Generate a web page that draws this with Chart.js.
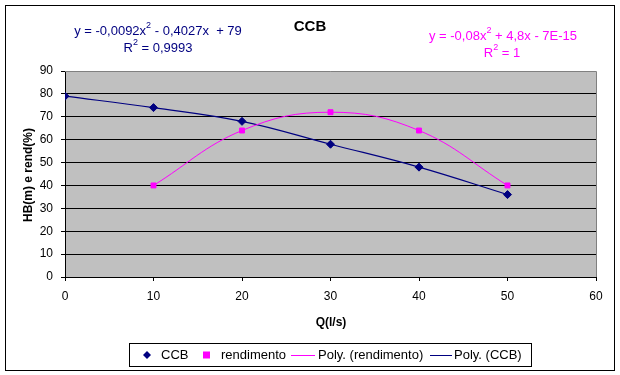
<!DOCTYPE html>
<html>
<head>
<meta charset="utf-8">
<script src="https://cdn.jsdelivr.net/npm/chart.js@4.4.1/dist/chart.umd.min.js"></script>
<style>
  html, body { margin: 0; padding: 0; background: #fff; }
  #wrap { width: 620px; height: 375px; }
</style>
</head>
<body>
<div id="wrap"><canvas id="chart" width="620" height="375"></canvas></div>
<script>
// ---- dados ----
const qCCB = [0, 10, 20, 30, 40, 50];
const hbCCB = [79, 74, 68, 58, 48, 36];
const qRend = [10, 20, 30, 40, 50];
const rendValues = [40, 64, 72, 64, 40];
const xTicks = [0, 10, 20, 30, 40, 50, 60];
const yTicks = [0, 10, 20, 30, 40, 50, 60, 70, 80, 90];

const NAVY = '#000080';
const MAGENTA = '#FF00FF';
const FONT = "'Liberation Sans', Arial, sans-serif";

const ccbPoints = qCCB.map((q, i) => ({ x: q, y: hbCCB[i] }));
const rendPoints = qRend.map((q, i) => ({ x: q, y: rendValues[i] }));

// texto com expoente (x², R²)
function drawSupText(ctx, parts, cx, cy, color) {
    ctx.save();
    ctx.fillStyle = color;
    ctx.textBaseline = 'middle';
    ctx.textAlign = 'left';
    let total = 0;
    parts.forEach(p => {
        ctx.font = p[1] ? '9px ' + FONT : '13px ' + FONT;
        total += ctx.measureText(p[0]).width;
    });
    let x = cx - total / 2;
    parts.forEach(p => {
        ctx.font = p[1] ? '9px ' + FONT : '13px ' + FONT;
        ctx.fillText(p[0], x, p[1] ? cy - 5 : cy);
        x += ctx.measureText(p[0]).width;
    });
    ctx.restore();
}

const decorPlugin = {
    id: 'decor',
    beforeDraw(chart) {
        const { ctx, chartArea: a } = chart;
        ctx.save();
        ctx.fillStyle = '#fff';
        ctx.fillRect(0, 0, chart.width, chart.height);
        ctx.fillStyle = '#C0C0C0';
        ctx.fillRect(a.left, a.top, a.right - a.left, a.bottom - a.top);
        ctx.restore();
    },
    beforeDatasetsDraw(chart) {
        const { ctx, chartArea: a } = chart;
        ctx.save();
        ctx.strokeStyle = '#808080';
        ctx.lineWidth = 1;
        ctx.beginPath();
        ctx.moveTo(a.left, a.top + 0.5);
        ctx.lineTo(a.right + 0.5, a.top + 0.5);
        ctx.lineTo(a.right + 0.5, a.bottom);
        ctx.stroke();
        ctx.restore();
    },
    afterDraw(chart) {
        const ctx = chart.ctx;
        const ds = chart.data.datasets;
        ctx.save();

        // moldura externa
        ctx.strokeStyle = '#000';
        ctx.lineWidth = 1;
        ctx.strokeRect(5.5, 5.5, 609, 365);

        // título
        ctx.fillStyle = '#000';
        ctx.font = 'bold 15px ' + FONT;
        ctx.textAlign = 'center';
        ctx.textBaseline = 'middle';
        ctx.fillText('CCB', 310, 27);

        // equações das linhas de tendência
        drawSupText(ctx, [['y = -0,0092x', false], ['2', true], [' - 0,4027x  + 79', false]], 158, 31, NAVY);
        drawSupText(ctx, [['R', false], ['2', true], [' = 0,9993', false]], 158, 48, NAVY);
        drawSupText(ctx, [['y = -0,08x', false], ['2', true], [' + 4,8x - 7E-15', false]], 503, 36, MAGENTA);
        drawSupText(ctx, [['R', false], ['2', true], [' = 1', false]], 502, 53, MAGENTA);

        // títulos dos eixos
        ctx.fillStyle = '#000';
        ctx.font = 'bold 12px ' + FONT;
        ctx.textAlign = 'center';
        ctx.textBaseline = 'middle';
        ctx.fillText('Q(l/s)', 331, 323);
        ctx.save();
        ctx.translate(29, 175);
        ctx.rotate(-Math.PI / 2);
        ctx.fillText('HB(m) e rend(%)', 0, 0);
        ctx.restore();

        // legenda
        ctx.strokeStyle = '#000';
        ctx.strokeRect(129.5, 343.5, 402, 23);
        const ly = 355;
        ctx.font = '13px ' + FONT;
        ctx.textAlign = 'left';
        ctx.textBaseline = 'middle';
        // CCB
        ctx.fillStyle = NAVY;
        ctx.beginPath();
        ctx.moveTo(147, ly - 4); ctx.lineTo(151, ly); ctx.lineTo(147, ly + 4); ctx.lineTo(143, ly);
        ctx.closePath(); ctx.fill();
        ctx.fillStyle = '#000';
        ctx.fillText(ds[0].label, 161, ly);
        // rendimento
        ctx.fillStyle = MAGENTA;
        ctx.fillRect(203, ly - 3.5, 7, 7);
        ctx.fillStyle = '#000';
        ctx.fillText(ds[1].label, 221, ly);
        // Poly. (rendimento)
        ctx.strokeStyle = MAGENTA;
        ctx.beginPath(); ctx.moveTo(291, ly + 0.5); ctx.lineTo(315, ly + 0.5); ctx.stroke();
        ctx.fillText(ds[2].label, 318, ly);
        // Poly. (CCB)
        ctx.strokeStyle = NAVY;
        ctx.beginPath(); ctx.moveTo(430, ly + 0.5); ctx.lineTo(452, ly + 0.5); ctx.stroke();
        ctx.fillText(ds[3].label, 454, ly);

        ctx.restore();
    }
};

new Chart(document.getElementById('chart'), {
    type: 'scatter',
    data: {
        datasets: [{
            label: 'CCB',
            data: ccbPoints,
            showLine: false,
            pointStyle: 'rectRot',
            pointRadius: 4,
            pointBackgroundColor: NAVY,
            pointBorderColor: NAVY,
            pointBorderWidth: 1,
            order: 1
        }, {
            label: 'rendimento',
            data: rendPoints,
            showLine: false,
            pointStyle: 'rect',
            pointRadius: 3.5,
            pointBackgroundColor: MAGENTA,
            pointBorderColor: MAGENTA,
            pointBorderWidth: 1,
            order: 0
        }, {
            label: 'Poly. (rendimento)',
            data: rendPoints,
            showLine: true,
            tension: 0.4,
            borderColor: MAGENTA,
            borderWidth: 1,
            pointRadius: 0,
            order: 2
        }, {
            label: 'Poly. (CCB)',
            data: ccbPoints,
            showLine: true,
            tension: 0.4,
            borderColor: NAVY,
            borderWidth: 1.2,
            pointRadius: 0,
            order: 2
        }]
    },
    options: {
        responsive: false,
        animation: false,
        events: [],
        layout: { padding: { left: 0, right: 24, top: 71, bottom: 0 } },
        plugins: { legend: { display: false }, title: { display: false }, tooltip: { enabled: false } },
        scales: {
            x: {
                type: 'linear',
                min: 0, max: 60,
                afterBuildTicks: s => { s.ticks = xTicks.map(v => ({ value: v })); },
                afterFit: s => { s.height = 98; },
                ticks: { color: '#000', font: { family: FONT, size: 12 }, padding: 8, maxRotation: 0 },
                grid: { drawOnChartArea: false, drawTicks: true, tickLength: 4, tickColor: '#000' },
                border: { color: '#000', width: 1 }
            },
            y: {
                type: 'linear',
                min: 0, max: 90,
                afterBuildTicks: s => { s.ticks = yTicks.map(v => ({ value: v })); },
                afterFit: s => { s.width = 65; },
                ticks: { color: '#000', font: { family: FONT, size: 12 }, padding: 8 },
                grid: {
                    color: c => (c.tick && c.tick.value === 90) ? 'rgba(0,0,0,0)' : '#000',
                    lineWidth: 1,
                    tickLength: 4,
                    tickColor: '#000'
                },
                border: { color: '#000', width: 1 }
            }
        }
    },
    plugins: [decorPlugin]
});
</script>
</body>
</html>
